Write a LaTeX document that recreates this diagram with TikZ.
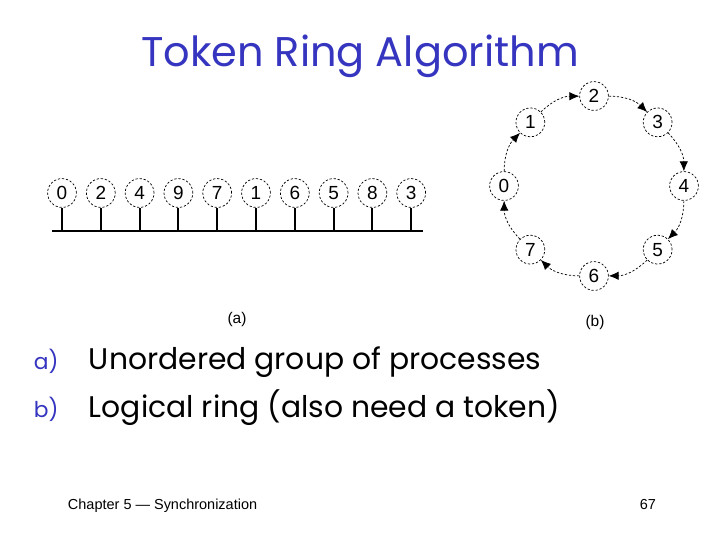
\documentclass[tikz,border=0pt]{standalone}
\usepackage{fontspec}
\setmainfont{Poppins}
\newfontfamily\digitfont{Liberation Sans}
\usepackage{xcolor}
\usetikzlibrary{arrows.meta,positioning,calc}
\definecolor{slideblue}{HTML}{3535C0}

\tikzset{
  proc/.style={circle,draw,dash pattern=on 1.6pt off 1.3pt,line width=0.5pt,
    minimum size=0.72cm,inner sep=0pt,font=\digitfont\fontsize{13.5}{13.5}\selectfont},
  stem/.style={line width=1.4pt},
  bus/.style={line width=2pt},
  token/.style={dash pattern=on 1.6pt off 1.3pt,line width=0.5pt,
    -{Latex[length=7pt,width=6pt]}},
  caption/.style={font=\digitfont\fontsize{11}{11}\selectfont},
  bullet/.style={anchor=base west,font=\fontsize{21.2}{25}\selectfont}
}

\begin{document}
\begin{tikzpicture}[x=0.025cm,y=0.025cm]
  \useasboundingbox (0,0) rectangle (720,540);
  % --- Title ---
  \node[anchor=base,font=\fontsize{29.5}{34}\selectfont,text=slideblue]
    (title) at (360,473) {Token Ring Algorithm};
  % --- (a) processes hanging off a bus ---
  \def\busy{309}
  \foreach \p [count=\i from 0] in {0,2,4,9,7,1,6,5,8,3} {
    \pgfmathsetmacro{\xp}{62+\i*38.8}
    \node[proc] (u\i) at (\xp,347) {\p};
    \coordinate (b\i) at (\xp,\busy);
    \draw[stem] (u\i) -- (b\i);
  }
  \coordinate (busL) at (52,\busy);
  \coordinate (busR) at (423,\busy);
  \draw[bus] (busL) -- (busR);
  \node[caption] (capa) at (237,221) {(a)};
  % --- (b) logical ring ---
  \coordinate (rc) at (594,354);
  \foreach \n/\a in {2/90,3/45,4/0,5/-45,6/-90,7/-135,0/180,1/135}
    \node[proc] (r\n) at ($(rc)+(\a:90)$) {\n};
  \foreach \s/\t in {1/2,2/3,3/4,4/5,5/6,6/7,7/0,0/1}
    \draw[token] (r\s) to[bend left=22] (r\t);
  \node[caption] (capb) at (595,218) {(b)};
  % --- Bullets ---
  \node[bullet,font=\fontsize{15.5}{17}\selectfont,text=slideblue] (la) at (29,171) {a)};
  \node[bullet] (ta) at (84,171) {Unordered group of processes};
  \node[bullet,font=\fontsize{15.5}{17}\selectfont,text=slideblue] (lb) at (29,123) {b)};
  \node[bullet] (tb) at (84,123) {Logical ring (also need a token)};
  % --- Footer ---
  \node[anchor=base west,font=\digitfont\fontsize{10.3}{12}\selectfont]
    (foot) at (63,31) {Chapter 5 — Synchronization};
  \node[anchor=base east,font=\digitfont\fontsize{10.3}{12}\selectfont]
    (page) at (661,31) {67};
\end{tikzpicture}
\end{document}
